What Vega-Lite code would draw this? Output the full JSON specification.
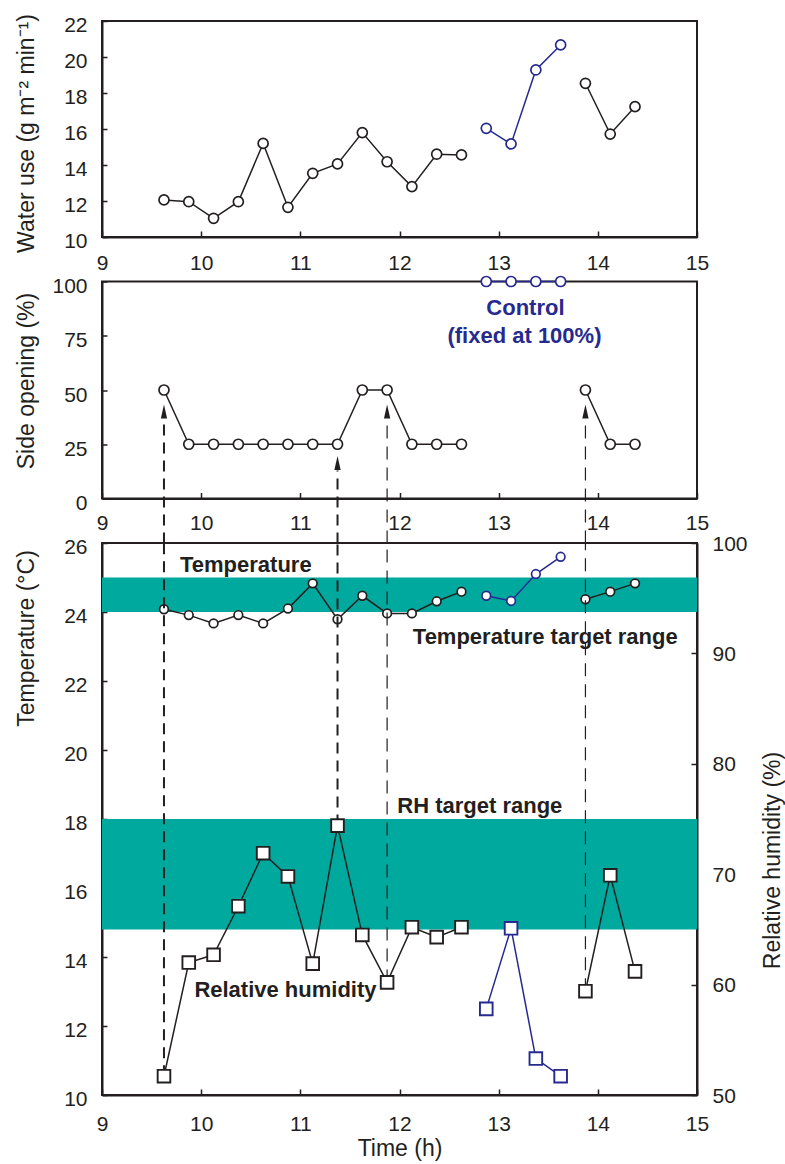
{
  "$schema": "https://vega.github.io/schema/vega-lite/v6.json",
  "background": "white",
  "padding": {"left": 13, "top": 12, "right": 5, "bottom": 5},
  "bounds": "flush",
  "spacing": 44.5,
  "config": {
    "view": {"stroke": "#231f20", "strokeWidth": 2},
    "font": "Liberation Sans",
    "axis": {
      "labelFont": "Liberation Sans", "labelFontSize": 21, "labelColor": "#231f20",
      "titleFont": "Liberation Sans", "titleFontSize": 23, "titleFontWeight": "normal", "titleColor": "#231f20",
      "domainColor": "#231f20", "domainWidth": 2, "tickColor": "#231f20", "tickWidth": 1.5,
      "grid": false, "labelFlush": false, "labelOverlap": false, "labelBound": false
    },
    "text": {"font": "Liberation Sans"}
  },
  "datasets": {
    "water": [
      {"t": 9.625, "v": 12.06, "seg": "a"}, {"t": 9.875, "v": 11.96, "seg": "a"}, {"t": 10.125, "v": 11.04, "seg": "a"},
      {"t": 10.375, "v": 11.96, "seg": "a"}, {"t": 10.625, "v": 15.2, "seg": "a"}, {"t": 10.875, "v": 11.65, "seg": "a"},
      {"t": 11.125, "v": 13.54, "seg": "a"}, {"t": 11.375, "v": 14.06, "seg": "a"}, {"t": 11.625, "v": 15.8, "seg": "a"},
      {"t": 11.875, "v": 14.18, "seg": "a"}, {"t": 12.125, "v": 12.8, "seg": "a"}, {"t": 12.375, "v": 14.6, "seg": "a"},
      {"t": 12.625, "v": 14.56, "seg": "a"},
      {"t": 12.875, "v": 16.04, "seg": "b"}, {"t": 13.125, "v": 15.17, "seg": "b"}, {"t": 13.375, "v": 19.28, "seg": "b"},
      {"t": 13.625, "v": 20.67, "seg": "b"},
      {"t": 13.875, "v": 18.54, "seg": "c"}, {"t": 14.125, "v": 15.72, "seg": "c"}, {"t": 14.375, "v": 17.24, "seg": "c"}
    ],
    "side": [
      {"t": 9.625, "v": 50, "seg": "a"}, {"t": 9.875, "v": 25, "seg": "a"}, {"t": 10.125, "v": 25, "seg": "a"},
      {"t": 10.375, "v": 25, "seg": "a"}, {"t": 10.625, "v": 25, "seg": "a"}, {"t": 10.875, "v": 25, "seg": "a"},
      {"t": 11.125, "v": 25, "seg": "a"}, {"t": 11.375, "v": 25, "seg": "a"}, {"t": 11.625, "v": 50, "seg": "a"},
      {"t": 11.875, "v": 50, "seg": "a"}, {"t": 12.125, "v": 25, "seg": "a"}, {"t": 12.375, "v": 25, "seg": "a"},
      {"t": 12.625, "v": 25, "seg": "a"},
      {"t": 12.875, "v": 100, "seg": "b"}, {"t": 13.125, "v": 100, "seg": "b"}, {"t": 13.375, "v": 100, "seg": "b"},
      {"t": 13.625, "v": 100, "seg": "b"},
      {"t": 13.875, "v": 50, "seg": "c"}, {"t": 14.125, "v": 25, "seg": "c"}, {"t": 14.375, "v": 25, "seg": "c"}
    ],
    "temp": [
      {"t": 9.625, "v": 24.08, "seg": "a"}, {"t": 9.875, "v": 23.91, "seg": "a"}, {"t": 10.125, "v": 23.67, "seg": "a"},
      {"t": 10.375, "v": 23.91, "seg": "a"}, {"t": 10.625, "v": 23.67, "seg": "a"}, {"t": 10.875, "v": 24.1, "seg": "a"},
      {"t": 11.125, "v": 24.83, "seg": "a"}, {"t": 11.375, "v": 23.79, "seg": "a"}, {"t": 11.625, "v": 24.47, "seg": "a"},
      {"t": 11.875, "v": 23.96, "seg": "a"}, {"t": 12.125, "v": 23.96, "seg": "a"}, {"t": 12.375, "v": 24.31, "seg": "a"},
      {"t": 12.625, "v": 24.59, "seg": "a"},
      {"t": 12.875, "v": 24.47, "seg": "b"}, {"t": 13.125, "v": 24.32, "seg": "b"}, {"t": 13.375, "v": 25.1, "seg": "b"},
      {"t": 13.625, "v": 25.6, "seg": "b"},
      {"t": 13.875, "v": 24.37, "seg": "c"}, {"t": 14.125, "v": 24.59, "seg": "c"}, {"t": 14.375, "v": 24.83, "seg": "c"}
    ],
    "rh": [
      {"t": 9.625, "v": 51.7, "seg": "a"}, {"t": 9.875, "v": 62.0, "seg": "a"}, {"t": 10.125, "v": 62.7, "seg": "a"},
      {"t": 10.375, "v": 67.1, "seg": "a"}, {"t": 10.625, "v": 71.9, "seg": "a"}, {"t": 10.875, "v": 69.8, "seg": "a"},
      {"t": 11.125, "v": 61.9, "seg": "a"}, {"t": 11.375, "v": 74.4, "seg": "a"}, {"t": 11.625, "v": 64.5, "seg": "a"},
      {"t": 11.875, "v": 60.2, "seg": "a"}, {"t": 12.125, "v": 65.2, "seg": "a"}, {"t": 12.375, "v": 64.3, "seg": "a"},
      {"t": 12.625, "v": 65.2, "seg": "a"},
      {"t": 12.875, "v": 57.8, "seg": "b"}, {"t": 13.125, "v": 65.1, "seg": "b"}, {"t": 13.375, "v": 53.3, "seg": "b"},
      {"t": 13.625, "v": 51.7, "seg": "b"},
      {"t": 13.875, "v": 59.4, "seg": "c"}, {"t": 14.125, "v": 69.9, "seg": "c"}, {"t": 14.375, "v": 61.2, "seg": "c"}
    ],
    "arrowsMid": [
      {"t": 9.625, "v": -20.7, "v2": 37.3, "tip": 40.1, "k": "thick"},
      {"t": 11.375, "v": -20.7, "v2": 12.9, "tip": 16.4, "k": "thick"},
      {"t": 11.875, "v": -20.7, "v2": 37.3, "tip": 40.1, "k": "thin"},
      {"t": 13.875, "v": -20.7, "v2": 37.3, "tip": 40.1, "k": "thin"}
    ],
    "arrowsBot": [
      {"t": 9.625, "v": 51.7, "v2": 100, "k": "thick"},
      {"t": 11.375, "v": 74.4, "v2": 100, "k": "thick"},
      {"t": 11.875, "v": 60.2, "v2": 100, "k": "thin"},
      {"t": 13.875, "v": 59.4, "v2": 100, "k": "thin"}
    ]
  },
  "vconcat": [
    {
      "width": 595, "height": 216,
      "data": {"name": "water"},
      "encoding": {
        "x": {"field": "t", "type": "quantitative", "scale": {"domain": [9, 15], "nice": false, "zero": false},
              "axis": {"values": [9, 10, 11, 12, 13, 14, 15], "format": "d", "title": null, "ticks": true, "tickSize": -6, "labelPadding": 21}},
        "y": {"field": "v", "type": "quantitative", "scale": {"domain": [10, 22], "nice": false, "zero": false},
              "axis": {"values": [10, 12, 14, 16, 18, 20, 22], "format": "d", "title": "Water use (g m⁻² min⁻¹)", "ticks": true, "tickSize": -5,
                       "labelPadding": 20, "labelOffset": 4, "titleX": -76, "titleY": 112, "titleBaseline": "middle", "titleAlign": "center"}}
      },
      "layer": [
        {"mark": {"type": "line", "strokeWidth": 1.5},
         "encoding": {"color": {"field": "seg", "type": "nominal", "scale": {"domain": ["a", "b", "c"], "range": ["#231f20", "#262a8f", "#231f20"]}, "legend": null}}},
        {"mark": {"type": "point", "shape": "circle", "filled": true, "fill": "white", "size": 100, "strokeWidth": 1.7, "opacity": 1},
         "encoding": {"stroke": {"field": "seg", "type": "nominal", "scale": {"domain": ["a", "b", "c"], "range": ["#231f20", "#262a8f", "#231f20"]}, "legend": null}}}
      ]
    },
    {
      "width": 595, "height": 217,
      "encoding": {
        "x": {"field": "t", "type": "quantitative", "scale": {"domain": [9, 15], "nice": false, "zero": false},
              "axis": {"values": [9, 10, 11, 12, 13, 14, 15], "format": "d", "title": null, "ticks": true, "tickSize": -6, "labelPadding": 20}},
        "y": {"field": "v", "type": "quantitative", "scale": {"domain": [0, 100], "nice": false, "zero": false},
              "axis": {"values": [0, 25, 50, 75, 100], "format": "d", "title": "Side opening (%)", "ticks": true, "tickSize": -5,
                       "labelPadding": 20, "labelOffset": 5, "titleX": -76, "titleY": 99, "titleBaseline": "middle", "titleAlign": "center"}}
      },
      "layer": [
        {"data": {"name": "arrowsMid"}, "transform": [{"filter": "datum.k === 'thick'"}],
         "mark": {"type": "rule", "color": "#231f20", "strokeWidth": 2, "strokeDash": [11, 7]},
         "encoding": {"y2": {"field": "v2"}}},
        {"data": {"name": "arrowsMid"}, "transform": [{"filter": "datum.k === 'thin'"}],
         "mark": {"type": "rule", "color": "#231f20", "strokeWidth": 1.2, "strokeDash": [13, 8]},
         "encoding": {"y2": {"field": "v2"}}},
        {"data": {"name": "arrowsMid"},
         "mark": {"type": "point", "shape": "M0,-1L0.45,1L-0.45,1Z", "filled": true, "color": "#231f20", "size": 196, "opacity": 1, "strokeWidth": 0},
         "encoding": {"y": {"field": "tip", "type": "quantitative"}}},
        {"data": {"name": "side"},
         "mark": {"type": "line", "strokeWidth": 1.5},
         "encoding": {"color": {"field": "seg", "type": "nominal", "scale": {"domain": ["a", "b", "c"], "range": ["#231f20", "#262a8f", "#231f20"]}, "legend": null}}},
        {"data": {"name": "side"},
         "mark": {"type": "point", "shape": "circle", "filled": true, "fill": "white", "size": 100, "strokeWidth": 1.7, "opacity": 1},
         "encoding": {"stroke": {"field": "seg", "type": "nominal", "scale": {"domain": ["a", "b", "c"], "range": ["#231f20", "#262a8f", "#231f20"]}, "legend": null}}},
        {"data": {"values": [{"t": 13.27, "v": 88.0, "label": "Control"}, {"t": 13.26, "v": 75.1, "label": "(fixed at 100%)"}]},
         "mark": {"type": "text", "fontSize": 22, "fontWeight": "bold", "color": "#262a8f", "align": "center", "baseline": "middle"},
         "encoding": {"text": {"field": "label"}}}
      ]
    },
    {
      "width": 595, "height": 552,
      "encoding": {
        "x": {"field": "t", "type": "quantitative", "scale": {"domain": [9, 15], "nice": false, "zero": false},
              "axis": {"values": [9, 10, 11, 12, 13, 14, 15], "format": "d", "title": "Time (h)", "ticks": true, "tickSize": -6, "labelPadding": 24,
                       "titleY": 53, "titleBaseline": "middle"}}
      },
      "layer": [
        {
          "encoding": {
            "y": {"field": "v", "type": "quantitative", "scale": {"domain": [10, 26], "nice": false, "zero": false},
                  "axis": {"orient": "left", "values": [10, 12, 14, 16, 18, 20, 22, 24, 26], "format": "d", "title": "Temperature (°C)", "ticks": true, "tickSize": -5,
                           "labelPadding": 20, "labelOffset": 4, "titleX": -76, "titleY": 95, "titleBaseline": "middle", "titleAlign": "center"}}
          },
          "layer": [
            {"data": {"values": [{"t": 9, "t2": 15, "v": 24, "v2": 25}]},
             "mark": {"type": "rect", "color": "#00a99d"},
             "encoding": {"x2": {"field": "t2"}, "y2": {"field": "v2"}}},
            {"data": {"name": "temp"},
             "mark": {"type": "line", "strokeWidth": 1.5},
             "encoding": {"color": {"field": "seg", "type": "nominal", "scale": {"domain": ["a", "b", "c"], "range": ["#231f20", "#262a8f", "#231f20"]}, "legend": null}}},
            {"data": {"name": "temp"},
             "mark": {"type": "point", "shape": "circle", "filled": true, "fill": "white", "size": 75, "strokeWidth": 1.7, "opacity": 1},
             "encoding": {"stroke": {"field": "seg", "type": "nominal", "scale": {"domain": ["a", "b", "c"], "range": ["#231f20", "#262a8f", "#231f20"]}, "legend": null}}},
            {"data": {"values": [
                {"t": 10.45, "v": 25.36, "label": "Temperature"},
                {"t": 13.47, "v": 23.28, "label": "Temperature target range"},
                {"t": 12.81, "v": 18.38, "label": "RH target range"},
                {"t": 10.85, "v": 13.04, "label": "Relative humidity"}]},
             "mark": {"type": "text", "fontSize": 22, "fontWeight": "bold", "color": "#231f20", "align": "center", "baseline": "middle"},
             "encoding": {"text": {"field": "label"}}}
          ]
        },
        {
          "encoding": {
            "y": {"field": "v", "type": "quantitative", "scale": {"domain": [50, 100], "nice": false, "zero": false},
                  "axis": {"orient": "right", "values": [50, 60, 70, 80, 90, 100], "format": "d", "title": "Relative humidity (%)", "ticks": true, "tickSize": -6,
                           "labelPadding": 21, "labelOffset": 1, "titleX": 75, "titleY": 317, "titleBaseline": "middle", "titleAlign": "center", "titleAngle": 270}}
          },
          "layer": [
            {"data": {"values": [{"t": 9, "t2": 15, "v": 65, "v2": 75}]},
             "mark": {"type": "rect", "color": "#00a99d"},
             "encoding": {"x2": {"field": "t2"}, "y2": {"field": "v2"}}},
            {"data": {"name": "arrowsBot"}, "transform": [{"filter": "datum.k === 'thick'"}],
             "mark": {"type": "rule", "color": "#231f20", "strokeWidth": 2, "strokeDash": [11, 7]},
             "encoding": {"y2": {"field": "v2"}}},
            {"data": {"name": "arrowsBot"}, "transform": [{"filter": "datum.k === 'thin'"}],
             "mark": {"type": "rule", "color": "#231f20", "strokeWidth": 1.2, "strokeDash": [13, 8]},
             "encoding": {"y2": {"field": "v2"}}},
            {"data": {"name": "rh"},
             "mark": {"type": "line", "strokeWidth": 1.5},
             "encoding": {"color": {"field": "seg", "type": "nominal", "scale": {"domain": ["a", "b", "c"], "range": ["#231f20", "#262a8f", "#231f20"]}, "legend": null}}},
            {"data": {"name": "rh"},
             "mark": {"type": "point", "shape": "square", "filled": true, "fill": "white", "size": 160, "strokeWidth": 1.9, "opacity": 1},
             "encoding": {"stroke": {"field": "seg", "type": "nominal", "scale": {"domain": ["a", "b", "c"], "range": ["#231f20", "#262a8f", "#231f20"]}, "legend": null}}}
          ]
        }
      ],
      "resolve": {"scale": {"y": "independent"}}
    }
  ]
}
